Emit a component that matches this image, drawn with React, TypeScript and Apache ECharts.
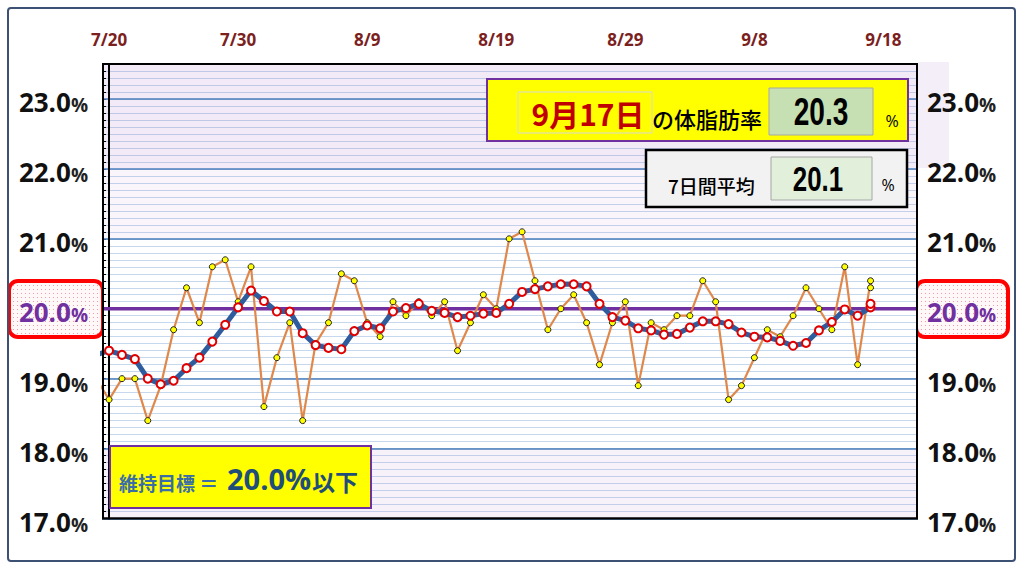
import React, { useEffect, useRef } from "react";
import * as echarts from "echarts";

// ---- data ----
const DATES = [
  "7/19", "7/20", "7/21", "7/22", "7/23", "7/24", "7/25", "7/26", "7/27", "7/28", "7/29", "7/30", "7/31",
  "8/1", "8/2", "8/3", "8/4", "8/5", "8/6", "8/7", "8/8", "8/9", "8/10", "8/11", "8/12", "8/13", "8/14", "8/15",
  "8/16", "8/17", "8/18", "8/19", "8/20", "8/21", "8/22", "8/23", "8/24", "8/25", "8/26", "8/27", "8/28", "8/29",
  "8/30", "8/31", "9/1", "9/2", "9/3", "9/4", "9/5", "9/6", "9/7", "9/8", "9/9", "9/10", "9/11", "9/12", "9/13",
  "9/14", "9/15", "9/16", "9/17", "9/17",
];
const BODY_FAT = [
  19.0, 18.7, 19.0, 19.0, 18.4, 18.9, 19.7, 20.3, 19.8, 20.6, 20.7, 20.1, 20.6,
  18.6, 19.3, 19.8, 18.4, 19.5, 19.8, 20.5, 20.4, 19.8, 19.6, 20.1, 19.9, 20.1, 19.9, 20.1,
  19.4, 19.8, 20.2, 20.0, 21.0, 21.1, 20.4, 19.7, 20.0, 20.2, 19.8, 19.2, 19.8, 20.1,
  18.9, 19.8, 19.7, 19.9, 19.9, 20.4, 20.1, 18.7, 18.9, 19.3, 19.7, 19.6, 19.9,
  20.3, 20.0, 19.7, 20.6, 19.2, 20.4, 20.3,
];
const AVG7 = [
  19.34, 19.40, 19.34, 19.28, 19.00, 18.92, 18.97, 19.15, 19.30, 19.53, 19.77, 20.02, 20.26,
  20.11, 19.96, 19.96, 19.65, 19.48, 19.44, 19.42, 19.68, 19.76, 19.72, 19.96, 20.01, 20.07, 19.97,
  19.94, 19.88, 19.90, 19.93, 19.94, 20.07, 20.24, 20.28, 20.32, 20.35, 20.35, 20.32, 20.07, 19.88,
  19.83, 19.72, 19.69, 19.63, 19.64, 19.73, 19.82, 19.82, 19.78, 19.66, 19.60, 19.59, 19.54, 19.47,
  19.51, 19.69, 19.81, 19.99, 19.90, 20.02, 20.07,
];
const TICK_LABELS = ["7/20", "7/30", "8/9", "8/19", "8/29", "9/8", "9/18"];
const Y_TICKS = [17, 18, 19, 20, 21, 22, 23];
const TARGET = 20.0;
const LATEST_DATE = "9月17日";
const LATEST_VALUE = "20.3";
const AVG_VALUE = "20.1";
const GOAL_LABEL = "維持目標 ＝";
const GOAL_VALUE = "20.0%";
const GOAL_SUFFIX = "以下";

// ---- helpers ----
const ORIGIN = "7/20";
function dayOf(s: string): number {
  const [m, d] = s.split("/").map(Number);
  const [m0, d0] = ORIGIN.split("/").map(Number);
  return Math.round((Date.UTC(2021, m - 1, d) - Date.UTC(2021, m0 - 1, d0)) / 86400000);
}
const TICK_DAYS = TICK_LABELS.map(dayOf);
const X_MIN = -0.47;
const X_MAX = 62.6;

const NUM_FONT = '"Open Sans", "Liberation Sans", sans-serif';
const JP_FONT = '"Noto Sans CJK JP", "Noto Sans", sans-serif';

function yLabel(v: number): string {
  const s = v.toFixed(1);
  return Math.abs(v - TARGET) < 1e-6 ? `{p|${s}}{pp|%}` : `{n|${s}}{np|%}`;
}
const yRich = {
  n: { fontFamily: NUM_FONT, fontSize: 26, fontWeight: "bold", color: "#111", lineHeight: 32, verticalAlign: "bottom" },
  np: { fontFamily: NUM_FONT, fontSize: 19, fontWeight: "bold", color: "#222", lineHeight: 32, verticalAlign: "bottom" },
  p: { fontFamily: NUM_FONT, fontSize: 26, fontWeight: "bold", color: "#7030a0", lineHeight: 32, verticalAlign: "bottom" },
  pp: { fontFamily: NUM_FONT, fontSize: 19, fontWeight: "bold", color: "#7030a0", lineHeight: 32, verticalAlign: "bottom" },
};

function bigNum(x: number, y: number, text: string, size: number) {
  return {
    type: "text",
    x,
    y,
    scaleX: 0.74,
    z: 21,
    style: {
      text,
      x: 0,
      y: 0,
      font: `bold ${size}px "Liberation Sans", sans-serif`,
      fill: "#000",
      textAlign: "center",
      textVerticalAlign: "middle",
    },
  };
}

function dotPattern(): any {
  try {
    const c = document.createElement("canvas");
    c.width = 4;
    c.height = 4;
    const g = c.getContext("2d");
    if (!g) return "#fdeff2";
    g.fillStyle = "#fff8f9";
    g.fillRect(0, 0, 4, 4);
    g.fillStyle = "#f29aa6";
    g.fillRect(1, 1, 1, 1);
    return { image: c, repeat: "repeat" };
  } catch (e) {
    return "#fdeff2";
  }
}

export default function App() {
  const ref = useRef<HTMLDivElement>(null);
  useEffect(() => {
    if (!ref.current) return;
    const chart = echarts.init(ref.current, undefined, { renderer: "svg" });
    const fatData = DATES.map((d, i) => [dayOf(d), BODY_FAT[i]]);
    const avgData = DATES.map((d, i) => [dayOf(d), AVG7[i]]);
    const dots = dotPattern();

    const option: any = {
      animation: false,
      backgroundColor: "#ffffff",
      grid: {
        left: 103,
        top: 64,
        width: 814,
        height: 454.5,
        show: true,
        backgroundColor: "#ffffff",
        borderColor: "#000",
        borderWidth: 2,
      },
      xAxis: {
        type: "value",
        position: "top",
        min: X_MIN,
        max: X_MAX,
        axisLine: { show: false },
        axisTick: { show: false },
        splitLine: { show: false },
        axisLabel: {
          customValues: TICK_DAYS,
          formatter: (v: number) => {
            const i = TICK_DAYS.indexOf(Math.round(v));
            return i >= 0 ? TICK_LABELS[i] : "";
          },
          color: "#7b1f1f",
          fontFamily: NUM_FONT,
          fontWeight: "bold",
          fontSize: 17,
          margin: 16,
        },
      },
      yAxis: [
        {
          type: "value",
          position: "left",
          min: 17,
          max: 23.5,
          interval: 1,
          z: 2,
          axisLine: { show: true, lineStyle: { color: "#000", width: 2 } },
          axisTick: { show: false },
          splitLine: { show: true, lineStyle: { color: "#4a7ebb", width: 1.5 } },
          axisLabel: {
            customValues: Y_TICKS,
            formatter: yLabel,
            rich: yRich,
            margin: 15,
          },
        },
        {
          type: "value",
          position: "right",
          min: 17,
          max: 23.5,
          interval: 1,
          axisLine: { show: false },
          axisTick: { show: false },
          splitLine: { show: false },
          axisLabel: {
            customValues: Y_TICKS,
            formatter: yLabel,
            rich: yRich,
            margin: 10,
          },
        },
        {
          type: "value",
          position: "left",
          min: 17,
          max: 23.5,
          interval: 0.1,
          z: 1,
          axisLine: { show: false },
          axisTick: { show: true, inside: true, length: 3, lineStyle: { color: "#000", width: 1 } },
          splitLine: { show: true, lineStyle: { color: "#c6d8ee", width: 1.2 } },
          axisLabel: { show: false },
        },
      ],
      series: [
        {
          name: "target",
          type: "line",
          data: [
            [X_MIN, TARGET],
            [X_MAX, TARGET],
          ],
          symbol: "none",
          lineStyle: { color: "#7030a0", width: 3.5 },
          z: 2,
          silent: true,
          markArea: {
            silent: true,
            data: [
              [{ yAxis: 22, itemStyle: { color: "rgba(150,90,190,0.12)" } }, { yAxis: 23.5 }],
              [{ yAxis: 21, itemStyle: { color: "rgba(150,90,190,0.06)" } }, { yAxis: 22 }],
              [{ yAxis: 17, itemStyle: { color: "rgba(150,90,190,0.08)" } }, { yAxis: 18 }],
            ],
          },
        },
        {
          name: "体脂肪率",
          type: "line",
          data: fatData,
          clip: true,
          symbol: "circle",
          symbolSize: 6,
          lineStyle: { color: "#e0874b", width: 2.2 },
          itemStyle: { color: "#ffff00", borderColor: "#222", borderWidth: 1 },
          z: 3,
        },
        {
          name: "7日間平均",
          type: "line",
          data: avgData,
          clip: true,
          symbol: "circle",
          symbolSize: 8,
          lineStyle: { color: "#2f5c9c", width: 5 },
          itemStyle: { color: "#ffffff", borderColor: "#e00000", borderWidth: 2 },
          z: 4,
        },
      ],
      graphic: [
        // outer frame
        {
          type: "rect",
          z: 50,
          shape: { x: 8, y: 8, width: 1007, height: 553, r: 3 },
          style: { fill: "none", stroke: "#3d5174", lineWidth: 2 },
        },
        // plot border on top of grid lines
        {
          type: "rect",
          z: 10,
          silent: true,
          shape: { x: 103, y: 64, width: 814, height: 454.5 },
          style: { fill: "none", stroke: "#000", lineWidth: 2 },
        },
        // lavender strip right of plot
        {
          type: "rect",
          z: -1,
          shape: { x: 918, y: 62, width: 31, height: 106 },
          style: { fill: "#f4eef8" },
        },
        // 20.0% highlight boxes
        {
          type: "rect",
          z: -1,
          shape: { x: 9, y: 281, width: 94, height: 56, r: 9 },
          style: { fill: dots, stroke: "#ff0000", lineWidth: 4 },
        },
        {
          type: "rect",
          z: -1,
          shape: { x: 916, y: 281, width: 92, height: 56, r: 9 },
          style: { fill: dots, stroke: "#ff0000", lineWidth: 4 },
        },
        // latest value box
        {
          type: "rect",
          z: 20,
          shape: { x: 487, y: 79, width: 421, height: 62 },
          style: { fill: "#ffff00", stroke: "#7030a0", lineWidth: 2 },
        },
        {
          type: "rect",
          z: 20,
          shape: { x: 518, y: 92, width: 134, height: 41 },
          style: { fill: "#ffff00", stroke: "#d8d8d8", lineWidth: 1 },
        },
        {
          type: "text",
          z: 21,
          x: 588,
          y: 113,
          style: {
            text: LATEST_DATE,
            font: `bold 30px ${JP_FONT}`,
            fill: "#c00000",
            textAlign: "center",
            textVerticalAlign: "middle",
          },
        },
        {
          type: "text",
          z: 21,
          x: 652,
          y: 118,
          style: {
            text: "の体脂肪率",
            font: `500 22px ${JP_FONT}`,
            fill: "#000",
            textAlign: "left",
            textVerticalAlign: "middle",
          },
        },
        {
          type: "rect",
          z: 20,
          shape: { x: 769, y: 88, width: 104, height: 47 },
          style: { fill: "#c6e0b4", stroke: "#a6a6a6", lineWidth: 1 },
        },
        bigNum(821, 112, LATEST_VALUE, 38),
        {
          type: "text",
          z: 21,
          x: 892,
          y: 121,
          style: { text: "%", font: `16px ${NUM_FONT}`, fill: "#000", textAlign: "center", textVerticalAlign: "middle" },
        },
        // 7-day average box
        {
          type: "rect",
          z: 20,
          shape: { x: 646, y: 150, width: 261, height: 57 },
          style: { fill: "#f2f2f2", stroke: "#000", lineWidth: 2.5 },
        },
        {
          type: "text",
          z: 21,
          x: 668,
          y: 185,
          style: {
            text: "7日間平均",
            font: `500 19px ${JP_FONT}`,
            fill: "#000",
            textAlign: "left",
            textVerticalAlign: "middle",
          },
        },
        {
          type: "rect",
          z: 20,
          shape: { x: 771, y: 157, width: 101, height: 43 },
          style: { fill: "#e2efda", stroke: "#a6a6a6", lineWidth: 1 },
        },
        bigNum(818, 179, AVG_VALUE, 35),
        {
          type: "text",
          z: 21,
          x: 888,
          y: 185,
          style: { text: "%", font: `16px ${NUM_FONT}`, fill: "#000", textAlign: "center", textVerticalAlign: "middle" },
        },
        // goal box
        {
          type: "rect",
          z: 20,
          shape: { x: 110, y: 446, width: 261, height: 62 },
          style: { fill: "#ffff00", stroke: "#7030a0", lineWidth: 2 },
        },
        {
          type: "text",
          z: 21,
          x: 119,
          y: 482,
          style: {
            text: GOAL_LABEL,
            font: `bold 19px ${JP_FONT}`,
            fill: "#3a6ea5",
            textAlign: "left",
            textVerticalAlign: "middle",
          },
        },
        {
          type: "text",
          z: 21,
          x: 227,
          y: 478,
          style: {
            text: GOAL_VALUE,
            font: `bold 29px ${NUM_FONT}`,
            fill: "#1f4e79",
            textAlign: "left",
            textVerticalAlign: "middle",
          },
        },
        {
          type: "text",
          z: 21,
          x: 312,
          y: 481,
          style: {
            text: GOAL_SUFFIX,
            font: `bold 23px ${JP_FONT}`,
            fill: "#1f4e79",
            textAlign: "left",
            textVerticalAlign: "middle",
          },
        },
      ],
    };
    chart.setOption(option);
    return () => chart.dispose();
  }, []);
  return (
    <div
      ref={ref}
      style={{ position: "fixed", left: 0, top: 0, width: 1024, height: 570, background: "#fff" }}
    />
  );
}
